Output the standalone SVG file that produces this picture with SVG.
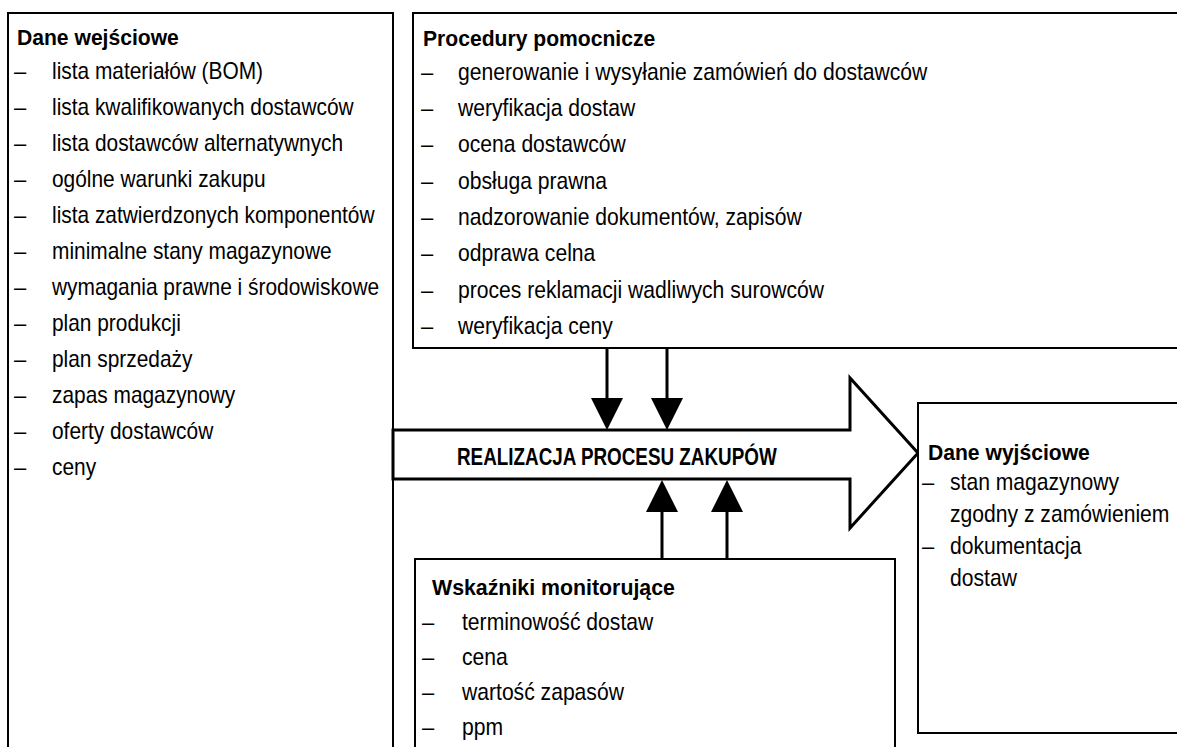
<svg xmlns="http://www.w3.org/2000/svg" width="1177" height="747" viewBox="0 0 1177 747">
<style>
.box{fill:#fff;stroke:#000;stroke-width:2}
.t{font-family:"Liberation Sans",Arial,sans-serif;font-size:24px;fill:#000}
.h{font-family:"Liberation Sans",Arial,sans-serif;font-size:22px;font-weight:bold;fill:#000}
.d{font-family:"Liberation Sans",Arial,sans-serif;font-size:22px;fill:#000}
.ln{stroke:#000;stroke-width:3;fill:none}
.hd{fill:#000;stroke:none}
</style>
<rect width="1177" height="747" fill="#fff"/>
<g id="dane-wejsciowe">
<rect class="box" x="8" y="13" width="385" height="760"/>
<text class="h" transform="translate(17 45) scale(0.96 1)">Dane wejściowe</text>
<text class="d" x="14" y="79">–</text><text class="t" transform="translate(52 79) scale(0.87 1)">lista materiałów (BOM)</text>
<text class="d" x="14" y="115">–</text><text class="t" transform="translate(52 115) scale(0.87 1)">lista kwalifikowanych dostawców</text>
<text class="d" x="14" y="151">–</text><text class="t" transform="translate(52 151) scale(0.87 1)">lista dostawców alternatywnych</text>
<text class="d" x="14" y="187">–</text><text class="t" transform="translate(52 187) scale(0.87 1)">ogólne warunki zakupu</text>
<text class="d" x="14" y="223">–</text><text class="t" transform="translate(52 223) scale(0.87 1)">lista zatwierdzonych komponentów</text>
<text class="d" x="14" y="259">–</text><text class="t" transform="translate(52 259) scale(0.87 1)">minimalne stany magazynowe</text>
<text class="d" x="14" y="295">–</text><text class="t" transform="translate(52 295) scale(0.87 1)">wymagania prawne i środowiskowe</text>
<text class="d" x="14" y="331">–</text><text class="t" transform="translate(52 331) scale(0.87 1)">plan produkcji</text>
<text class="d" x="14" y="367">–</text><text class="t" transform="translate(52 367) scale(0.87 1)">plan sprzedaży</text>
<text class="d" x="14" y="403">–</text><text class="t" transform="translate(52 403) scale(0.87 1)">zapas magazynowy</text>
<text class="d" x="14" y="439">–</text><text class="t" transform="translate(52 439) scale(0.87 1)">oferty dostawców</text>
<text class="d" x="14" y="475">–</text><text class="t" transform="translate(52 475) scale(0.87 1)">ceny</text>
</g>
<g id="procedury-pomocnicze">
<rect class="box" x="413" y="13" width="790" height="335"/>
<text class="h" transform="translate(423 46) scale(0.96 1)">Procedury pomocnicze</text>
<text class="d" x="421" y="80">–</text><text class="t" transform="translate(458 80) scale(0.88 1)">generowanie i wysyłanie zamówień do dostawców</text>
<text class="d" x="421" y="116">–</text><text class="t" transform="translate(458 116) scale(0.88 1)">weryfikacja dostaw</text>
<text class="d" x="421" y="152">–</text><text class="t" transform="translate(458 152) scale(0.88 1)">ocena dostawców</text>
<text class="d" x="421" y="189">–</text><text class="t" transform="translate(458 189) scale(0.88 1)">obsługa prawna</text>
<text class="d" x="421" y="225">–</text><text class="t" transform="translate(458 225) scale(0.88 1)">nadzorowanie dokumentów, zapisów</text>
<text class="d" x="421" y="261">–</text><text class="t" transform="translate(458 261) scale(0.88 1)">odprawa celna</text>
<text class="d" x="421" y="298">–</text><text class="t" transform="translate(458 298) scale(0.88 1)">proces reklamacji wadliwych surowców</text>
<text class="d" x="421" y="334">–</text><text class="t" transform="translate(458 334) scale(0.88 1)">weryfikacja ceny</text>
</g>
<g id="realizacja">
<path d="M393,430 H850 V378 L918,453 L850,528 V479 H393 Z" fill="#fff" stroke="#000" stroke-width="3" stroke-linejoin="miter"/>
<text class="h" transform="translate(457 465) scale(0.82 1)" style="font-size:23px">REALIZACJA PROCESU ZAKUPÓW</text>
</g>
<g id="wskazniki-monitorujace">
<rect class="box" x="415" y="559" width="480" height="220"/>
<text class="h" transform="translate(432 595) scale(0.97 1)">Wskaźniki monitorujące</text>
<text class="d" x="422" y="630">–</text><text class="t" transform="translate(462 630) scale(0.88 1)">terminowość dostaw</text>
<text class="d" x="422" y="665">–</text><text class="t" transform="translate(462 665) scale(0.88 1)">cena</text>
<text class="d" x="422" y="700">–</text><text class="t" transform="translate(462 700) scale(0.88 1)">wartość zapasów</text>
<text class="d" x="422" y="735">–</text><text class="t" transform="translate(462 735) scale(0.88 1)">ppm</text>
</g>
<g id="dane-wyjsciowe">
<rect class="box" x="918" y="403" width="290" height="330"/>
<text class="h" transform="translate(928 460) scale(0.96 1)">Dane wyjściowe</text>
<text class="d" x="922" y="490">–</text><text class="t" transform="translate(950 490) scale(0.88 1)">stan magazynowy</text>
<text class="t" transform="translate(950 522) scale(0.88 1)">zgodny z zamówieniem</text>
<text class="d" x="922" y="554">–</text><text class="t" transform="translate(950 554) scale(0.88 1)">dokumentacja</text>
<text class="t" transform="translate(950 586) scale(0.88 1)">dostaw</text>
</g>
<g id="connectors">
<line class="ln" x1="607" y1="348" x2="607" y2="400"/>
<polygon class="hd" points="591,398 623,398 607,430"/>
<line class="ln" x1="667" y1="348" x2="667" y2="400"/>
<polygon class="hd" points="651,398 683,398 667,430"/>
<line class="ln" x1="662" y1="559" x2="662" y2="510"/>
<polygon class="hd" points="646,512 678,512 662,480"/>
<line class="ln" x1="727" y1="559" x2="727" y2="510"/>
<polygon class="hd" points="711,512 743,512 727,480"/>
</g>
</svg>
